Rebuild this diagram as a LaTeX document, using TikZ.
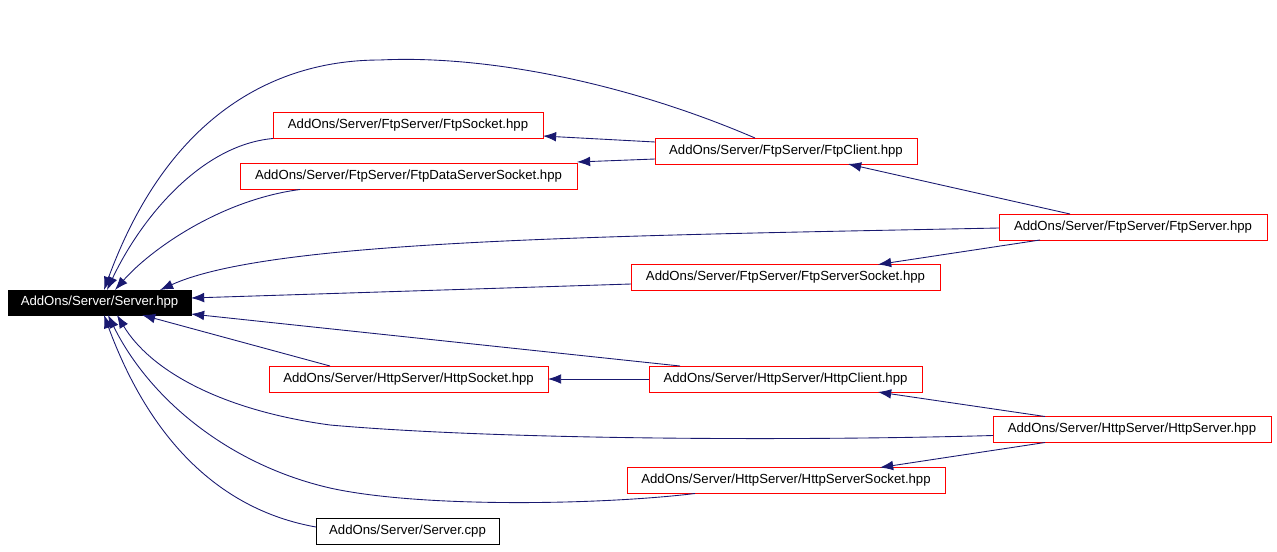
\documentclass[tikz,border=0pt]{standalone}
\usepackage{fontspec}
\setmainfont{Liberation Sans}
\usepackage{xcolor}
\usetikzlibrary{arrows.meta, calc}
\definecolor{dep}{HTML}{191970}

\begin{document}
\begin{tikzpicture}[x=0.02cm, y=-0.02cm,
  file/.style={draw=red, line width=0.5pt, minimum height=0.52cm, inner sep=0, outer sep=0, font=\fontsize{7.5}{9}\selectfont},
  top/.style={fill=black, draw=black, text=white, line width=0.5pt, minimum height=0.5cm, inner sep=0, outer sep=0, font=\fontsize{7.5}{9}\selectfont},
  edge/.style={color=dep, line width=0.5pt, -{Latex[length=7.5pt, width=5.5pt]}}]
\useasboundingbox (0,0) rectangle (1277,551);

\node[top, minimum width=3.66cm] (srv) at (99.5,302.5) {AddOns/Server/Server.hpp};
\node[file, minimum width=5.4cm] (ftpsock) at (408,125.5) {AddOns/Server/FtpServer/FtpSocket.hpp};
\node[file, minimum width=6.74cm] (ftpdata) at (408.5,176.5) {AddOns/Server/FtpServer/FtpDataServerSocket.hpp};
\node[file, minimum width=5.24cm] (ftpcli) at (786,151) {AddOns/Server/FtpServer/FtpClient.hpp};
\node[file, minimum width=5.36cm] (ftpsrv) at (1133,227) {AddOns/Server/FtpServer/FtpServer.hpp};
\node[file, minimum width=6.18cm] (ftpss) at (785.5,277.5) {AddOns/Server/FtpServer/FtpServerSocket.hpp};
\node[file, minimum width=5.58cm] (httpsock) at (408.5,379) {AddOns/Server/HttpServer/HttpSocket.hpp};
\node[file, minimum width=5.46cm] (httpcli) at (785.5,379) {AddOns/Server/HttpServer/HttpClient.hpp};
\node[file, minimum width=5.56cm] (httpsrv) at (1132,429.5) {AddOns/Server/HttpServer/HttpServer.hpp};
\node[file, minimum width=6.36cm] (httpss) at (786,480.5) {AddOns/Server/HttpServer/HttpServerSocket.hpp};
\node[file, draw=black, minimum width=3.66cm] (srvcpp) at (407.5,531) {AddOns/Server/Server.cpp};

\draw[edge] ($(ftpcli.west)+(0,-9)$) -- ($(ftpsock.east)+(0,10.5)$);
\draw[edge] ($(ftpcli.west)+(0,8)$) -- ($(ftpdata.east)+(0,-14.5)$);
\draw[edge] ($(ftpsrv.north)+(-63,0)$) -- ($(ftpcli.south)+(62,0)$);
\draw[edge] ($(ftpsrv.south)+(-93,0)$) -- ($(ftpss.north)+(92.5,0)$);
\draw[edge] (httpcli.west) -- (httpsock.east);
\draw[edge] ($(httpsrv.north)+(-87,0)$) -- ($(httpcli.south)+(92.5,0)$);
\draw[edge] ($(httpsrv.south)+(-87,0)$) -- ($(httpss.north)+(94,0)$);

\draw[edge] ($(ftpss.west)+(0,6.5)$) -- ($(srv.east)+(0,-4.5)$);
\draw[edge] ($(httpcli.north)+(-105.5,0)$) -- ($(srv.east)+(0,11.5)$);
\draw[edge] ($(httpsock.north)+(-78.5,0)$) -- ($(srv.south)+(42.5,0)$);
\draw[edge] ($(ftpcli.north)+(-31,0)$) .. controls (620,80) and (480,55) .. (380,60)
  .. controls (280,60) and (170,110) .. ($(srv.north)+(4.5,0)$);
\draw[edge] (ftpsock.south west) .. controls (200,145) and (140,220) .. ($(srv.north)+(7.5,0)$);
\draw[edge] ($(ftpdata.south)+(-108.5,0)$) .. controls (220,200) and (150,250) .. ($(srv.north)+(15.5,0)$);
\draw[edge] ($(ftpsrv.west)+(0,1)$) .. controls (600,236) and (270,240) .. ($(srv.north)+(60.5,0)$);
\draw[edge] ($(httpsrv.west)+(0,6)$) .. controls (800,441) and (500,440) .. (330,425)
  .. controls (220,410) and (150,370) .. ($(srv.south)+(17.5,0)$);
\draw[edge] ($(httpss.south)+(-91,0)$) .. controls (600,505) and (420,508) .. (330,488)
  .. controls (230,465) and (150,400) .. ($(srv.south)+(8.5,0)$);
\draw[edge] ($(srvcpp.west)+(0,-4)$) .. controls (220,510) and (150,440) .. ($(srv.south)+(4.5,0)$);

\end{tikzpicture}
\end{document}
